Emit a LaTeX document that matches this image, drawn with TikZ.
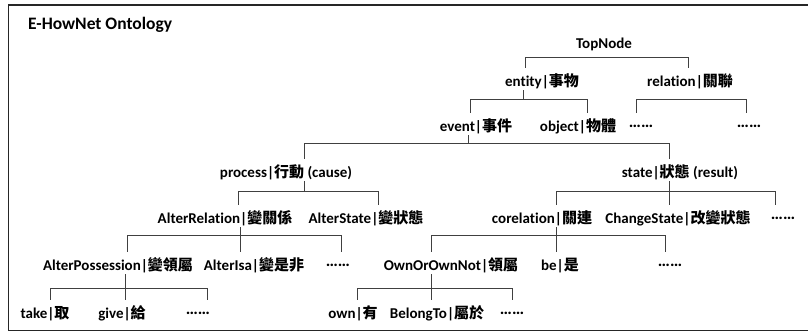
\documentclass[tikz,border=0pt]{standalone}
\usepackage{fontspec}
\setmainfont{Carlito}[Ligatures=CommonOff]
\newfontfamily\cjk{Noto Sans CJK TC}
\newcommand{\zh}[1]{{\cjk #1}}
\newcommand{\more}{\raisebox{3.5pt}{\fontsize{17}{18}\selectfont ……}}
\tikzset{
  lbl/.style={font=\bfseries\fontsize{15}{18}\selectfont, inner xsep=0pt, inner ysep=3pt,
    text height=15pt, text depth=1pt, anchor=base},
  fork/.style={draw=black!75, line width=0.8pt},
  frame/.style={draw=black!85, line width=1.6pt},
}
\begin{document}
\begin{tikzpicture}[x=1pt,y=-1pt]
\useasboundingbox (0,0) rectangle (808,332);
\draw[frame] (8.5,5) rectangle (815,330.5);
\node[anchor=base west, inner sep=0pt, font=\bfseries\fontsize{17.5}{20}\selectfont] (title) at (28,29) {E-HowNet Ontology};

% labels, row by row
\node[lbl] (top) at (604,48) {TopNode};

\node[lbl] (entity) at (542,86) {entity|\zh{事物}};
\node[lbl] (relation) at (690,86) {relation|\zh{關聯}};

\node[lbl] (event) at (476,131) {event|\zh{事件}};
\node[lbl] (object) at (578,131) {object|\zh{物體}};
\node[lbl] (reldotsa) at (641,131) {\more};
\node[lbl] (reldotsb) at (749,131) {\more};

\node[lbl] (process) at (286,177) {process|\zh{行動} (cause)};
\node[lbl] (state) at (680,177) {state|\zh{狀態} (result)};

\node[lbl] (altrel) at (225,223) {AlterRelation|\zh{變關係}};
\node[lbl] (altstate) at (366,223) {AlterState|\zh{變狀態}};
\node[lbl] (corel) at (542,223) {corelation|\zh{關連}};
\node[lbl] (chstate) at (678,223) {ChangeState|\zh{改變狀態}};
\node[lbl] (statedots) at (783,223) {\more};

\node[lbl] (altposs) at (118,270) {AlterPossession|\zh{變領屬}};
\node[lbl] (altisa) at (254,270) {AlterIsa|\zh{變是非}};
\node[lbl] (altreldots) at (338,270) {\more};
\node[lbl] (ownornot) at (451,270) {OwnOrOwnNot|\zh{領屬}};
\node[lbl] (be) at (560,270) {be|\zh{是}};
\node[lbl] (coreldots) at (670,270) {\more};

\node[lbl] (take) at (45,318) {take|\zh{取}};
\node[lbl] (give) at (122,318) {give|\zh{給}};
\node[lbl] (possdots) at (198,318) {\more};
\node[lbl] (own) at (353,318) {own|\zh{有}};
\node[lbl] (belong) at (437,318) {BelongTo|\zh{屬於}};
\node[lbl] (owndots) at (512,318) {\more};

% TopNode
\draw[fork] (525,0 |- entity.north) |- (688,57) -- (688,0 |- relation.north);
% entity
\draw[fork] (523,0 |- entity.south) -- (523,99);
\draw[fork] (470,0 |- event.north) |- (587,99) -- (587,0 |- object.north);
% relation
\draw[fork] (636,0 |- reldotsa.north) |- (746,99) -- (746,0 |- reldotsb.north);
% event
\draw[fork] (468,0 |- event.south) -- (468,143);
\draw[fork] (304,0 |- process.north) |- (669,143) -- (669,0 |- state.north);
% process
\draw[fork] (304,0 |- process.south) -- (304,191);
\draw[fork] (238,0 |- altrel.north) |- (378,191) -- (378,0 |- altstate.north);
% state
\draw[fork] (669,0 |- state.south) -- (669,0 |- chstate.north);
\draw[fork] (556,0 |- corel.north) |- (775,191) -- (775,0 |- statedots.north);
% AlterRelation
\draw[fork] (240,0 |- altrel.south) -- (240,0 |- altisa.north);
\draw[fork] (127,0 |- altposs.north) |- (341,235) -- (341,0 |- altreldots.north);
% corelation
\draw[fork] (556,0 |- corel.south) -- (556,0 |- be.north);
\draw[fork] (431,0 |- ownornot.north) |- (665,235) -- (665,0 |- coreldots.north);
% AlterPossession
\draw[fork] (125,0 |- altposs.south) -- (125,0 |- give.north);
\draw[fork] (50,0 |- take.north) |- (207,288) -- (207,0 |- possdots.north);
% OwnOrOwnNot
\draw[fork] (431,0 |- ownornot.south) -- (431,0 |- belong.north);
\draw[fork] (357,0 |- own.north) |- (512,288) -- (512,0 |- owndots.north);
\end{tikzpicture}
\end{document}
